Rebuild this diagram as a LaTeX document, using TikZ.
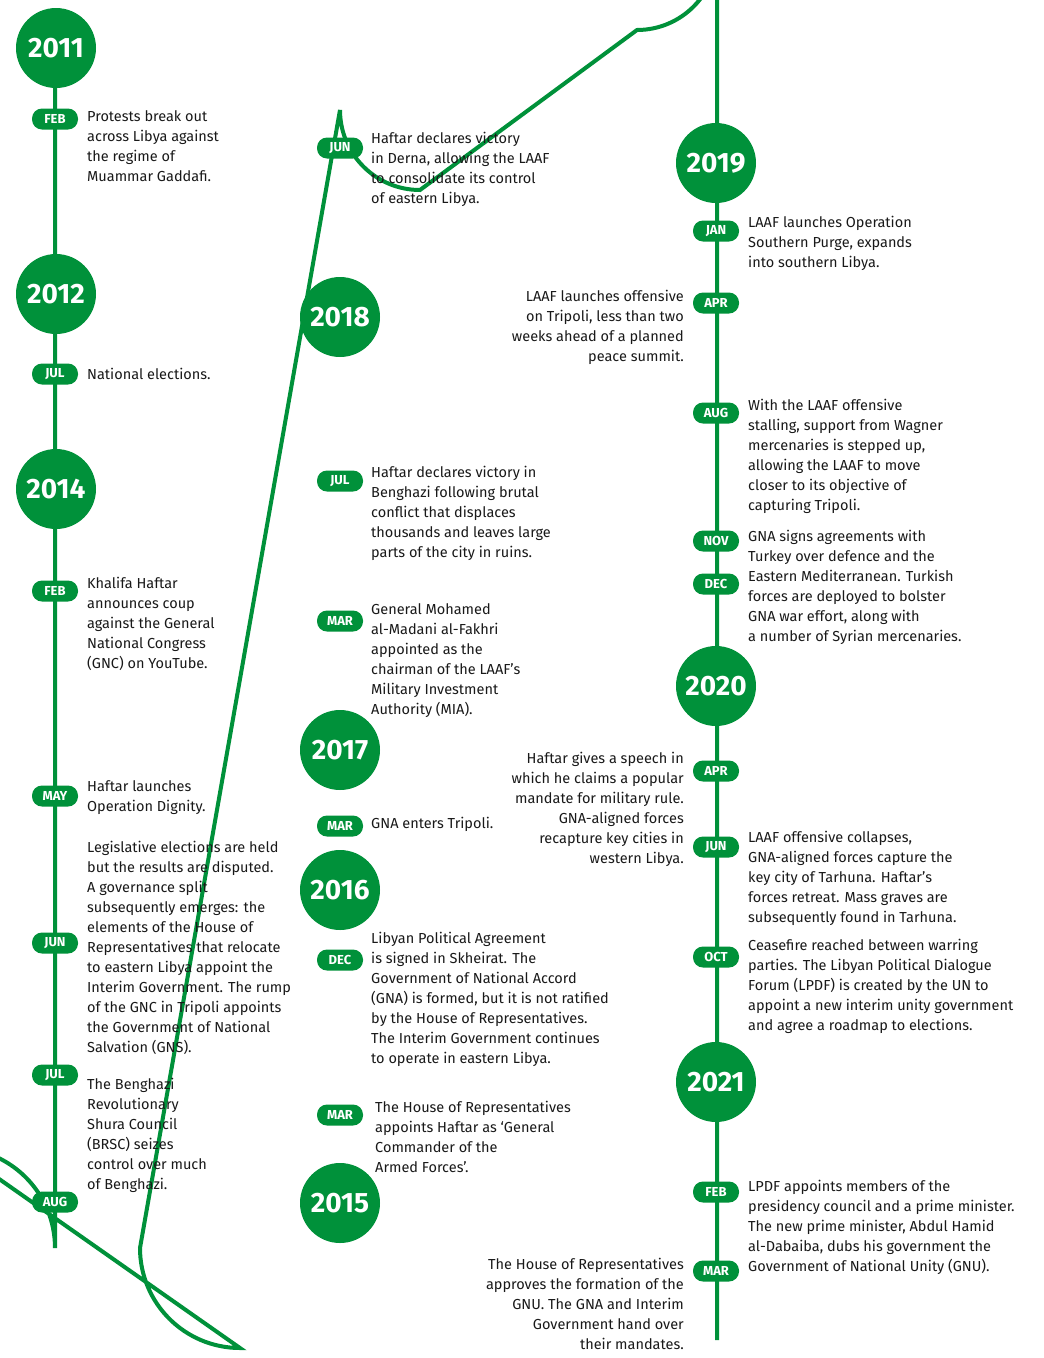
\documentclass[tikz,border=0pt]{standalone}
\usepackage{fontspec}
\setmainfont{Fira Sans}
\definecolor{gr}{RGB}{0,145,58}
\tikzset{
 yr/.style={circle,fill=gr,minimum size=80pt,inner sep=0pt,text=white,font=\fontsize{28}{28}\selectfont\bfseries},
 mo/.style={rounded corners=10pt,fill=gr,minimum width=46pt,minimum height=21pt,inner sep=0pt,text=white,font=\fontsize{13}{13}\selectfont\bfseries},
 tl/.style={anchor=north west,align=left,inner sep=0pt,font=\fontsize{14.5}{20}\selectfont,text=black!90},
 tr/.style={anchor=north east,align=right,inner sep=0pt,font=\fontsize{14.5}{20}\selectfont,text=black!90},
}
\begin{document}
\begin{tikzpicture}[x=1pt,y=-1pt]
\useasboundingbox[fill=white] (0,0) rectangle (1044,1358);
\coordinate (a) at (55,48);
\coordinate (b) at (717,1340);
\draw[gr,line width=4pt] (a) -- (55,1248) arc[start angle=180,end angle=90,radius=-100] -- (240,1348) arc[start angle=270,end angle=360,radius=-100]
 -- (340,110) arc[start angle=180,end angle=90,radius=80] -- (637,30) arc[start angle=90,end angle=0,radius=80] -- (b);
\node[yr] (y11) at (56,48) {2011};
\node[yr] (y12) at (56,294) {2012};
\node[yr] (y14) at (56,489) {2014};
\node[yr] (y18) at (340,317) {2018};
\node[yr] (y17) at (340,750) {2017};
\node[yr] (y16) at (340,890) {2016};
\node[yr] (y15) at (340,1203) {2015};
\node[yr] (y19) at (716,163) {2019};
\node[yr] (y20) at (716,686) {2020};
\node[yr] (y21) at (716,1082) {2021};
% left
\node[mo] (m1) at (55,119) {FEB};
\node[tl] (t1) at (87,110) {Protests break out\\across Libya against\\the regime of\\Muammar Gaddafi.};
\node[mo] (m2) at (55,374) {JUL};
\node[tl] (t2) at (87,368) {National elections.};
\node[mo] (m3) at (55,591) {FEB};
\node[tl] (t3) at (87,577) {Khalifa Haftar\\announces coup\\against the General\\National Congress\\(GNC) on YouTube.};
\node[mo] (m4) at (55,796) {MAY};
\node[tl] (t4) at (87,780) {Haftar launches\\Operation Dignity.};
\node[mo] (m5) at (55,943) {JUN};
\node[tl] (t5) at (87,841) {Legislative elections are held\\but the results are disputed.\\A governance split\\subsequently emerges: the\\elements of the House of\\Representatives that relocate\\to eastern Libya appoint the\\Interim Government. The rump\\of the GNC in Tripoli appoints\\the Government of National\\Salvation (GNS).};
\node[mo] (m6) at (55,1075) {JUL};
\node[tl] (t6) at (87,1078) {The Benghazi\\Revolutionary\\Shura Council\\(BRSC) seizes\\control over much\\of Benghazi.};
\node[mo] (m7) at (55,1202) {AUG};
% middle
\node[mo] (n1) at (340,148) {JUN};
\node[tl] (s1) at (371,132) {Haftar declares victory\\in Derna, allowing the LAAF\\to consolidate its control\\of eastern Libya.};
\node[mo] (n2) at (340,481) {JUL};
\node[tl] (s2) at (371,466) {Haftar declares victory in\\Benghazi following brutal\\conflict that displaces\\thousands and leaves large\\parts of the city in ruins.};
\node[mo] (n3) at (340,621) {MAR};
\node[tl] (s3) at (371,603) {General Mohamed\\al-Madani al-Fakhri\\appointed as the\\chairman of the LAAF’s\\Military Investment\\Authority (MIA).};
\node[mo] (n4) at (340,826) {MAR};
\node[tl] (s4) at (371,817) {GNA enters Tripoli.};
\node[mo] (n5) at (340,960) {DEC};
\node[tl] (s5) at (371,932) {Libyan Political Agreement\\is signed in Skheirat. The\\Government of National Accord\\(GNA) is formed, but it is not ratified\\by the House of Representatives.\\The Interim Government continues\\to operate in eastern Libya.};
\node[mo] (n6) at (340,1115) {MAR};
\node[tl] (s6) at (375,1101) {The House of Representatives\\appoints Haftar as ‘General\\Commander of the\\Armed Forces’.};
% right
\node[mo] (r1) at (716,231) {JAN};
\node[tl] (u1) at (748,216) {LAAF launches Operation\\Southern Purge, expands\\into southern Libya.};
\node[mo] (r2) at (716,303) {APR};
\node[tr] (u2) at (684,290) {LAAF launches offensive\\on Tripoli, less than two\\weeks ahead of a planned\\peace summit.};
\node[mo] (r3) at (716,413) {AUG};
\node[tl] (u3) at (748,399) {With the LAAF offensive\\stalling, support from Wagner\\mercenaries is stepped up,\\allowing the LAAF to move\\closer to its objective of\\capturing Tripoli.};
\node[mo] (r4) at (716,541) {NOV};
\node[mo] (r5) at (716,584) {DEC};
\node[tl] (u4) at (748,530) {GNA signs agreements with\\Turkey over defence and the\\Eastern Mediterranean. Turkish\\forces are deployed to bolster\\GNA war effort, along with\\a number of Syrian mercenaries.};
\node[mo] (r6) at (716,771) {APR};
\node[tr] (u5) at (684,752) {Haftar gives a speech in\\which he claims a popular\\mandate for military rule.\\GNA-aligned forces\\recapture key cities in\\western Libya.};
\node[mo] (r7) at (716,847) {JUN};
\node[tl] (u6) at (748,831) {LAAF offensive collapses,\\GNA-aligned forces capture the\\key city of Tarhuna. Haftar’s\\forces retreat. Mass graves are\\subsequently found in Tarhuna.};
\node[mo] (r8) at (716,957) {OCT};
\node[tl] (u7) at (748,939) {Ceasefire reached between warring\\parties. The Libyan Political Dialogue\\Forum (LPDF) is created by the UN to\\appoint a new interim unity government\\and agree a roadmap to elections.};
\node[mo] (r9) at (716,1192) {FEB};
\node[tl] (u8) at (748,1180) {LPDF appoints members of the\\presidency council and a prime minister.\\The new prime minister, Abdul Hamid\\al-Dabaiba, dubs his government the\\Government of National Unity (GNU).};
\node[mo] (r10) at (716,1271) {MAR};
\node[tr] (u9) at (684,1258) {The House of Representatives\\approves the formation of the\\GNU. The GNA and Interim\\Government hand over\\their mandates.};
\end{tikzpicture}
\end{document}
